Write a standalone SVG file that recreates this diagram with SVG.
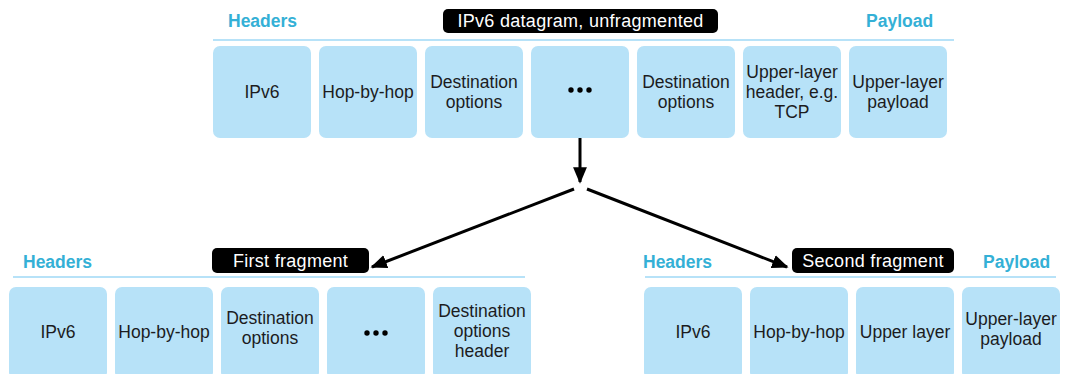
<svg xmlns="http://www.w3.org/2000/svg" width="1070" height="374" viewBox="0 0 1070 374">
<defs>
<style>
.box{fill:#b7e2f8;}
.t{font-family:"Liberation Sans",Arial,sans-serif;font-size:17.5px;fill:#1c1c1e;text-anchor:middle;}
.hd{font-family:"Liberation Sans",Arial,sans-serif;font-size:17.5px;font-weight:bold;fill:#34b0d6;}
.rule{stroke:#b7e2f8;stroke-width:2;fill:none;}
.tag{fill:#000;}
.tagt{font-family:"Liberation Sans",Arial,sans-serif;font-size:18px;fill:#fff;text-anchor:middle;letter-spacing:0.3px;}
.dot{fill:#000;}
.arr{stroke:#000;stroke-width:3;fill:none;marker-end:url(#ah);}
</style>
<marker id="ah" viewBox="0 0 10 10" refX="9" refY="5" markerWidth="5.5" markerHeight="5.5" markerUnits="strokeWidth" orient="auto">
<path d="M0,0.8 L10,5 L0,9.2 z" fill="#000"/>
</marker>
</defs>
<rect width="1070" height="374" fill="#fff"/>

<g id="top-header">
<text class="hd" x="228" y="27">Headers</text>
<text class="hd" x="866" y="27">Payload</text>
<line class="rule" x1="213" y1="40" x2="954" y2="40"/>
<rect class="tag" x="443" y="9" width="275" height="24" rx="5"/>
<text class="tagt" x="580.5" y="27">IPv6 datagram, unfragmented</text>
</g>

<g id="top-ipv6"><rect class="box" x="213" y="46" width="98" height="92" rx="7"/><text class="t" x="262" y="98">IPv6</text></g>
<g id="top-hop"><rect class="box" x="319" y="46" width="98" height="92" rx="7"/><text class="t" x="368" y="98">Hop-by-hop</text></g>
<g id="top-dest1"><rect class="box" x="425" y="46" width="98" height="92" rx="7"/><text class="t" x="474" y="88">Destination</text><text class="t" x="474" y="108">options</text></g>
<g id="top-dots"><rect class="box" x="531" y="46" width="98" height="92" rx="7"/><circle class="dot" cx="571" cy="90" r="2.7"/><circle class="dot" cx="580" cy="90" r="2.7"/><circle class="dot" cx="589" cy="90" r="2.7"/></g>
<g id="top-dest2"><rect class="box" x="637" y="46" width="98" height="92" rx="7"/><text class="t" x="686" y="88">Destination</text><text class="t" x="686" y="108">options</text></g>
<g id="top-upper"><rect class="box" x="743" y="46" width="98" height="92" rx="7"/><text class="t" x="792" y="78">Upper-layer</text><text class="t" x="792" y="98">header, e.g.</text><text class="t" x="792" y="118">TCP</text></g>
<g id="top-payload"><rect class="box" x="849" y="46" width="98" height="92" rx="7"/><text class="t" x="898" y="88">Upper-layer</text><text class="t" x="898" y="108">payload</text></g>

<g id="first-header">
<text class="hd" x="23" y="268">Headers</text>
<line class="rule" x1="13" y1="277" x2="525" y2="277"/>
<rect class="tag" x="212" y="248" width="157" height="25" rx="5"/>
<text class="tagt" x="290.5" y="267">First fragment</text>
</g>

<g id="f1-ipv6"><rect class="box" x="9" y="287" width="98" height="92" rx="7"/><text class="t" x="58" y="338">IPv6</text></g>
<g id="f1-hop"><rect class="box" x="115" y="287" width="98" height="92" rx="7"/><text class="t" x="164" y="338">Hop-by-hop</text></g>
<g id="f1-dest"><rect class="box" x="221" y="287" width="98" height="92" rx="7"/><text class="t" x="270" y="324">Destination</text><text class="t" x="270" y="344">options</text></g>
<g id="f1-dots"><rect class="box" x="327" y="287" width="98" height="92" rx="7"/><circle class="dot" cx="367" cy="333" r="2.7"/><circle class="dot" cx="376" cy="333" r="2.7"/><circle class="dot" cx="385" cy="333" r="2.7"/></g>
<g id="f1-desthdr"><rect class="box" x="433" y="287" width="98" height="92" rx="7"/><text class="t" x="482" y="317">Destination</text><text class="t" x="482" y="337">options</text><text class="t" x="482" y="357">header</text></g>

<g id="second-header">
<text class="hd" x="643" y="268">Headers</text>
<text class="hd" x="983" y="268">Payload</text>
<line class="rule" x1="645" y1="277" x2="1056" y2="277"/>
<rect class="tag" x="792" y="248" width="162" height="25" rx="5"/>
<text class="tagt" x="873" y="267">Second fragment</text>
</g>

<g id="f2-ipv6"><rect class="box" x="644" y="287" width="98" height="92" rx="7"/><text class="t" x="693" y="338">IPv6</text></g>
<g id="f2-hop"><rect class="box" x="750" y="287" width="98" height="92" rx="7"/><text class="t" x="799" y="338">Hop-by-hop</text></g>
<g id="f2-upper"><rect class="box" x="856" y="287" width="98" height="92" rx="7"/><text class="t" x="905" y="338">Upper layer</text></g>
<g id="f2-payload"><rect class="box" x="962" y="287" width="98" height="92" rx="7"/><text class="t" x="1011" y="325">Upper-layer</text><text class="t" x="1011" y="345">payload</text></g>

<g id="connectors">
<line class="arr" x1="580" y1="138" x2="580" y2="182"/>
<line class="arr" x1="574" y1="189" x2="372" y2="267"/>
<line class="arr" x1="587" y1="189" x2="787" y2="267"/>
</g>
</svg>
